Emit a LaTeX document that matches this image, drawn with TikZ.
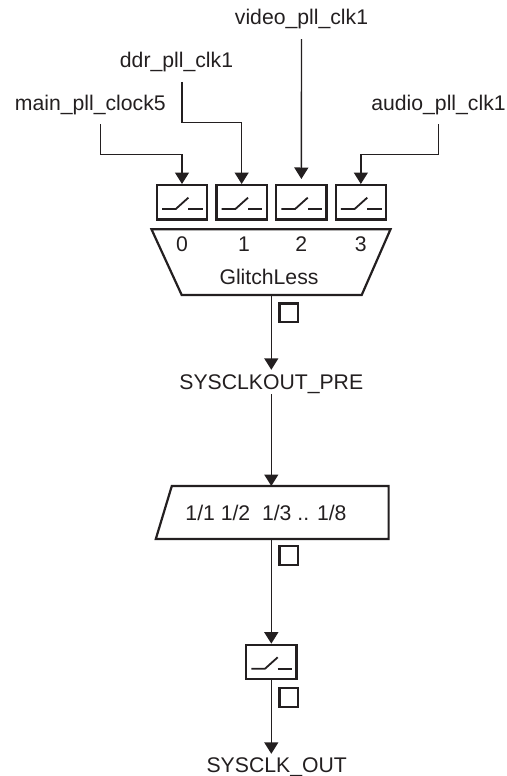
\documentclass[tikz,border=0pt]{standalone}
\usepackage{fontspec}
\setmainfont{Liberation Sans}
\usetikzlibrary{arrows.meta}
\definecolor{ink}{RGB}{35,31,32}
\tikzset{
  wire/.style={draw=ink,line width=1.4pt},
  flow/.style={wire,-{Triangle[width=14pt,length=11.5pt]}},
  switchbox/.style={draw=ink,line width=2.3pt,rectangle,minimum width=50.3pt,minimum height=34.4pt,inner sep=0pt},
  tickbox/.style={draw=ink,line width=2.3pt,rectangle,minimum size=18.7pt,inner sep=0pt},
  swglyph/.style={draw=ink,line width=1.8pt},
  txt/.style={text=ink,font=\fontsize{21.2}{24}\selectfont,inner sep=0pt,anchor=base},
  srclabel/.style={txt,text height=15pt,text depth=14pt},
  blockline/.style={draw=ink,line width=2.2pt,line join=miter}
}
\newcommand{\swsym}[1]{%
  \draw[swglyph] ([shift={(-20,6.7)}]#1.center) -- ([shift={(-6.3,6.7)}]#1.center) -- ([shift={(6.4,-4.7)}]#1.center);
  \draw[swglyph] ([shift={(6.4,6.7)}]#1.center) -- ([shift={(20.7,6.7)}]#1.center);
}
\begin{document}
\begin{tikzpicture}[x=1pt,y=-1pt]
\useasboundingbox (0,0) rectangle (506,776);
% source labels
\node[srclabel] (lmain) at (90.3,110) {main\_pll\_clock5};
\node[srclabel] (lddr) at (176.5,67.7) {ddr\_pll\_clk1};
\node[srclabel] (lvideo) at (301.5,25) {video\_pll\_clk1};
\node[srclabel] (laudio) at (438.5,110) {audio\_pll\_clk1};
% switches
\node[switchbox] (sw0) at (182,202.35) {};
\node[switchbox] (sw1) at (241.65,202.35) {};
\node[switchbox] (sw2) at (301.35,202.35) {};
\node[switchbox] (sw3) at (360.85,202.35) {};
\swsym{sw0}\swsym{sw1}\swsym{sw2}\swsym{sw3}
% elbows
\coordinate (e0) at (100.5,154.7);
\coordinate (e1) at (182,122.3);
\coordinate (e3) at (438.7,154.7);
\draw[flow] (lmain.south -| e0) -- (e0) -| (sw0.north);
\draw[flow] (lddr.south -| e1) -- (e1) -| (sw1.north);
\draw[flow,shorten >=5pt] (lvideo.south) -- (sw2.north);
\draw[flow] (laudio.south -| e3) -- (e3) -| (sw3.north);
% glitchless mux
\coordinate (muxtl) at (151.5,229.3);
\coordinate (muxtr) at (390.5,229.3);
\coordinate (muxbr) at (361.7,295);
\coordinate (muxbl) at (181.7,295);
\draw[blockline] (muxtl) -- (muxtr) -- (muxbr) -- (muxbl) -- cycle;
\node[txt] (d0) at (182,251.7) {0};
\node[txt] (d1) at (244,251.7) {1};
\node[txt] (d2) at (301.3,251.7) {2};
\node[txt] (d3) at (360.7,251.7) {3};
\node[txt] (gl) at (269,284.3) {GlitchLess};
\node[tickbox] (t0) at (288.8,312.8) {};
% pre label
\node[txt,text height=19pt,text depth=5pt] (lpre) at (271.3,389) {SYSCLKOUT\_PRE};
\draw[flow] (muxbl -| lpre) -- (lpre.north);
% divider
\coordinate (dvtl) at (171.8,486);
\coordinate (dvtr) at (388.6,486);
\coordinate (dvbr) at (388.6,539);
\coordinate (dvbl) at (155.8,539);
\draw[blockline] (dvtl) -- (dvtr) -- (dvbr) -- (dvbl) -- cycle;
\node[txt] (dt) at (266,520.7) {1/1 1/2\ \ 1/3 .. 1/8};
\draw[flow] (lpre.south) -- (lpre.south |- dvtl);
\node[tickbox] (t1) at (288.8,555.5) {};
% output switch
\node[switchbox] (sw4) at (271.3,662) {};
\swsym{sw4}
\draw[flow] (sw4.north |- dvbl) -- (sw4.north);
\node[tickbox] (t2) at (288.8,697.5) {};
\node[txt,text height=18.3pt,text depth=3pt] (lout) at (276.7,772.3) {SYSCLK\_OUT};
\draw[flow] (sw4.south) -- (sw4.south |- lout.north);
\end{tikzpicture}
\end{document}
